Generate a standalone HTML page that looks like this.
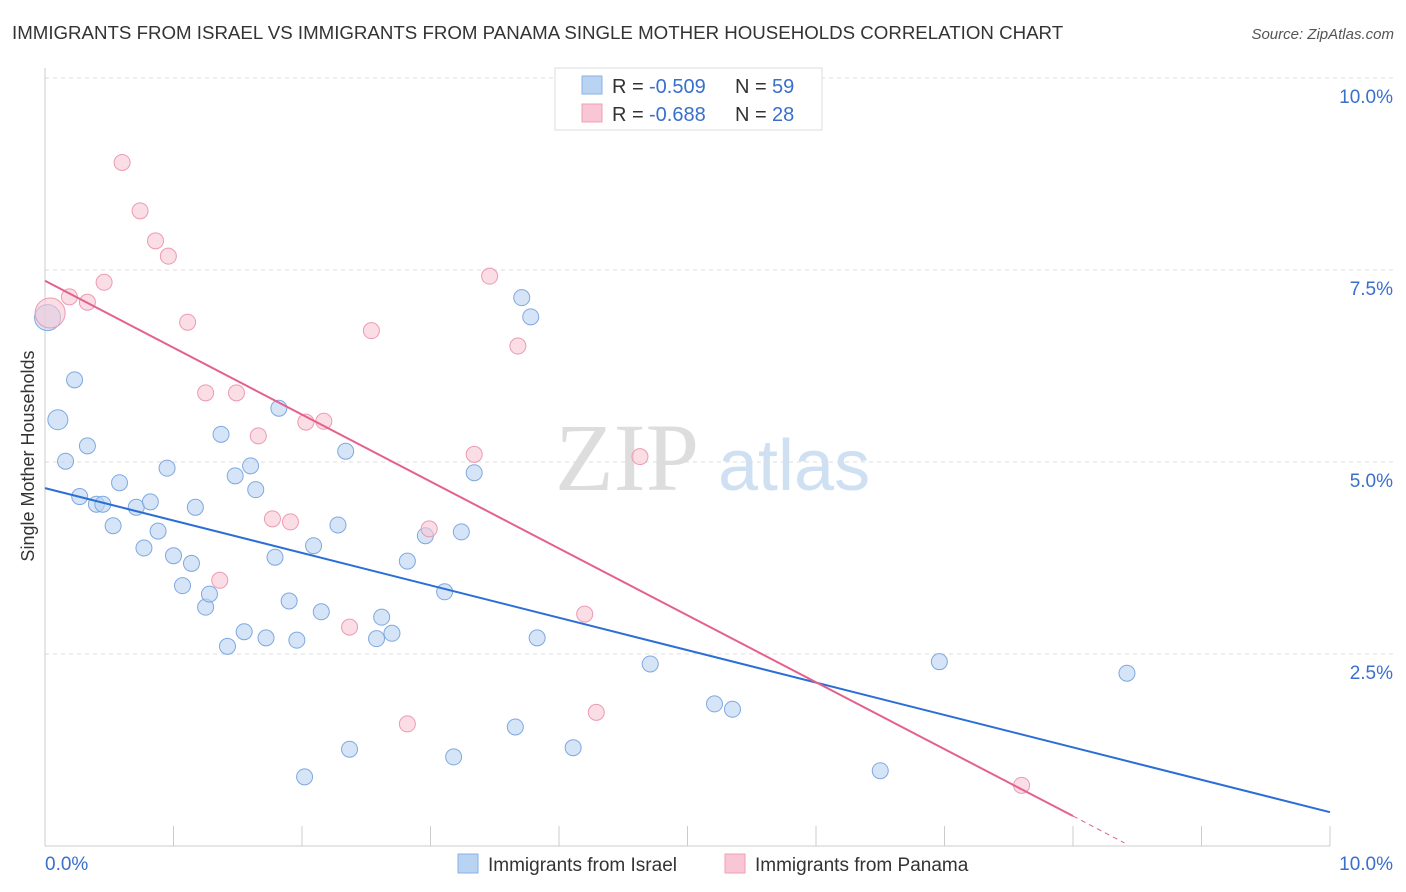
<!DOCTYPE html>
<html><head><meta charset="utf-8">
<style>
body{margin:0;background:#fff;font-family:"Liberation Sans",sans-serif;}
svg{display:block}
</style></head>
<body>
<svg id="chart" width="1406" height="892" xmlns="http://www.w3.org/2000/svg" font-family="Liberation Sans, sans-serif">
<text x="12" y="39" font-size="18.7" fill="#333">IMMIGRANTS FROM ISRAEL VS IMMIGRANTS FROM PANAMA SINGLE MOTHER HOUSEHOLDS CORRELATION CHART</text>
<text x="1394" y="39" font-size="15" fill="#555" text-anchor="end" font-style="italic">Source: ZipAtlas.com</text>
<text x="555" y="490" font-size="96" fill="#ddd" font-family="Liberation Serif, serif">ZIP</text>
<text x="718" y="490" font-size="72" fill="#cfe0f3">atlas</text>
<g id="grid"></g>
<g id="axes"></g>
<g id="marks"></g>
<g>
<rect x="555" y="68" width="267" height="62" fill="#fff" stroke="#ddd"/>
<rect x="582" y="76" width="20" height="18" fill="#b9d3f2" stroke="#8ab2e6"/>
<rect x="582" y="104" width="20" height="18" fill="#f8c6d4" stroke="#ef9fb6"/>
<text x="612" y="93" font-size="20" fill="#333">R = </text>
<text x="649" y="93" font-size="20" fill="#3a6fcc">-0.509</text>
<text x="735" y="93" font-size="20" fill="#333">N = </text>
<text x="772" y="93" font-size="20" fill="#3a6fcc">59</text>
<text x="612" y="121" font-size="20" fill="#333">R = </text>
<text x="649" y="121" font-size="20" fill="#3a6fcc">-0.688</text>
<text x="735" y="121" font-size="20" fill="#333">N = </text>
<text x="772" y="121" font-size="20" fill="#3a6fcc">28</text>
</g>
<g>
<rect x="458" y="854" width="20" height="19" fill="#b9d3f2" stroke="#8ab2e6"/>
<text x="488" y="871" font-size="19" fill="#333">Immigrants from Israel</text>
<rect x="725" y="854" width="20" height="19" fill="#f8c6d4" stroke="#ef9fb6"/>
<text x="755" y="871" font-size="19" fill="#333">Immigrants from Panama</text>
</g>
<text transform="translate(34,456) rotate(-90)" font-size="18" fill="#333" text-anchor="middle">Single Mother Households</text>
</svg>
<script>
const yTicks=[2.5,5.0,7.5,10.0];
const yTickLabels=["2.5%","5.0%","7.5%","10.0%"];
const xTicks=[0,1,2,3,4,5,6,7,8,9,10];
const israelX=[0.02,0.10,0.23,0.33,0.16,0.27,0.40,0.45,0.53,0.58,0.71,0.82,0.77,0.88,0.95,1.00,1.07,1.14,1.17,1.25,1.28,1.37,1.42,1.48,1.55,1.60,1.64,1.72,1.82,1.79,1.90,1.96,2.02,2.09,2.15,2.28,2.34,2.37,2.58,2.62,2.70,2.82,2.96,3.11,3.18,3.24,3.34,3.66,3.71,3.78,3.83,4.11,4.71,5.21,5.35,6.50,6.96,8.42];
const israelY=[6.88,5.55,6.07,5.21,5.01,4.55,4.45,4.45,4.17,4.73,4.41,4.48,3.88,4.10,4.92,3.78,3.39,3.68,4.41,3.11,3.28,5.36,2.60,4.82,2.79,4.95,4.64,2.71,5.70,3.76,3.19,2.68,0.90,3.91,3.05,4.18,5.14,1.26,2.70,2.98,2.77,3.71,4.04,3.31,1.16,4.09,4.86,1.55,7.14,6.89,2.71,1.28,2.37,1.85,1.78,0.98,2.40,2.25];
const israelR=[13,10,8,8,8,8,8,8,8,8,8,8,8,8,8,8,8,8,8,8,8,8,8,8,8,8,8,8,8,8,8,8,8,8,8,8,8,8,8,8,8,8,8,8,8,8,8,8,8,8,8,8,8,8,8,8,8,8];
const panamaX=[0.04,0.19,0.33,0.46,0.60,0.74,0.86,0.96,1.11,1.25,1.49,1.66,1.77,1.91,2.03,2.17,1.36,2.37,2.54,2.82,2.99,3.34,3.46,3.68,4.20,4.29,4.63,7.60];
const panamaY=[6.94,7.15,7.08,7.34,8.90,8.27,7.88,7.68,6.82,5.90,5.90,5.34,4.26,4.22,5.52,5.53,3.46,2.85,6.71,1.59,4.13,5.10,7.42,6.51,3.02,1.74,5.07,0.79];
const panamaR=[15,8,8,8,8,8,8,8,8,8,8,8,8,8,8,8,8,8,8,8,8,8,8,8,8,8,8,8];
const israelTrend=[[0,4.66],[10,0.44]];
const panamaTrend=[[0,7.36],[8,0.39]];
const panamaDash=[[8,0.39],[8.4,0.04]];

const X=v=>45+v*128.5, Y=v=>846-v*76.8;
const NS="http://www.w3.org/2000/svg";
function mk(tag,attrs,parent){const e=document.createElementNS(NS,tag);for(const k in attrs)e.setAttribute(k,attrs[k]);document.getElementById(parent).appendChild(e);return e;}
yTicks.forEach((t,i)=>{
 let l=mk('line',{x1:45,x2:1394,y1:Y(t),y2:Y(t),stroke:'#ddd','stroke-dasharray':'4,4'},'grid');
 
 
 let tx=mk('text',{x:1393,y:Y(t)+25,'font-size':19,fill:'#3a6fcc','text-anchor':'end'},'axes');
 tx.textContent=yTickLabels[i];
 
 
});
let ax=mk('line',{x1:45,x2:45,y1:68,y2:846,stroke:'#ccc'},'axes');


let bx=mk('line',{x1:45,x2:1330,y1:846,y2:846,stroke:'#ccc'},'axes');


xTicks.forEach(t=>{
 let l=mk('line',{x1:X(t),x2:X(t),y1:826,y2:846,stroke:'#ccc'},'axes');
 
 
});
let x0=mk('text',{x:45,y:870,'font-size':19,fill:'#3a6fcc'},'axes');x0.textContent='0.0%';


let x1=mk('text',{x:1393,y:870,'font-size':19,fill:'#3a6fcc','text-anchor':'end'},'axes');x1.textContent='10.0%';


israelX.forEach((v,i)=>{
 let c=mk('circle',{cx:X(v),cy:Y(israelY[i]),r:israelR[i],fill:'rgba(185,211,242,0.6)',stroke:'#7fa8e0','stroke-width':1},'marks');
 
 
});
panamaX.forEach((v,i)=>{
 let c=mk('circle',{cx:X(v),cy:Y(panamaY[i]),r:panamaR[i],fill:'rgba(248,198,212,0.6)',stroke:'#ec9ab2','stroke-width':1},'marks');
 
 
});
let t1=mk('line',{x1:X(israelTrend[0][0]),y1:Y(israelTrend[0][1]),x2:X(israelTrend[1][0]),y2:Y(israelTrend[1][1]),stroke:'#2b6fd6','stroke-width':2},'marks');


let t2=mk('line',{x1:X(panamaTrend[0][0]),y1:Y(panamaTrend[0][1]),x2:X(panamaTrend[1][0]),y2:Y(panamaTrend[1][1]),stroke:'#e4608e','stroke-width':2},'marks');


let t3=mk('line',{x1:X(panamaDash[0][0]),y1:Y(panamaDash[0][1]),x2:X(panamaDash[1][0]),y2:Y(panamaDash[1][1]),stroke:'#e4608e','stroke-width':1,'stroke-dasharray':'5,4'},'marks');


</script>
</body></html>
